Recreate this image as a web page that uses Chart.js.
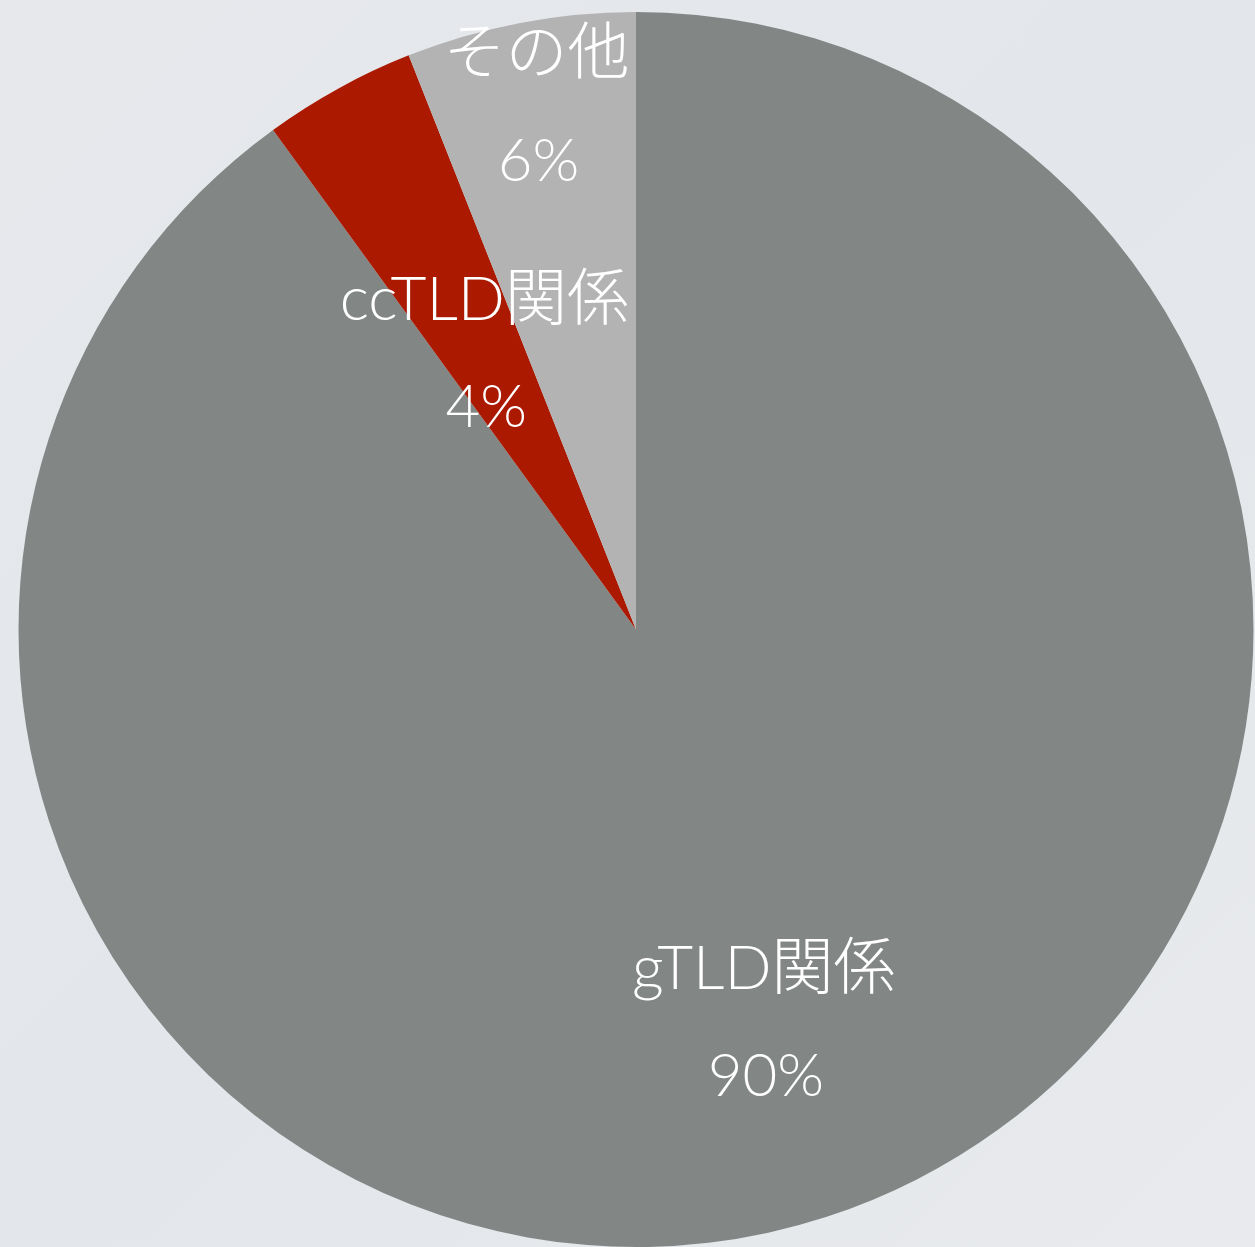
<!DOCTYPE html>
<html>
<head>
<meta charset="utf-8">
<script src="https://cdn.jsdelivr.net/npm/chart.js@4.4.1/dist/chart.umd.min.js"></script>
<style>
    html, body { margin: 0; padding: 0; overflow: hidden; }
    body {
        width: 1255px;
        height: 1247px;
        background: linear-gradient(135deg, #e6e8ec 0%, #e3e6ea 50%, #e8eaed 100%);
    }
    #wrap { position: relative; width: 1255px; height: 1247px; }
</style>
</head>
<body>
<div id="wrap"><canvas id="share"></canvas></div>
<script>
const categories = ["gTLD関係", "ccTLD関係", "その他"];
const shares = [90, 4, 6];
const sliceColors = ["#828785", "#aa1900", "#b3b3b3"];

// how far out (fraction of radius) each label sits along its slice
const labelRadius = [0.67, 0.51, 0.86];

const sliceLabels = {
    id: "sliceLabels",
    afterDatasetsDraw(chart, args, opts) {
        const { ctx } = chart;
        const meta = chart.getDatasetMeta(0);
        const values = chart.data.datasets[0].data;
        const total = values.reduce((a, b) => a + b, 0);
        ctx.save();
        ctx.fillStyle = "#ffffff";
        ctx.textAlign = "center";
        ctx.textBaseline = "middle";
        meta.data.forEach((arc, i) => {
            const p = arc.getProps(["x", "y", "startAngle", "endAngle", "outerRadius"], true);
            const mid = (p.startAngle + p.endAngle) / 2;
            const r = p.outerRadius * opts.radius[i];
            const cx = p.x + Math.cos(mid) * r;
            const cy = p.y + Math.sin(mid) * r;
            ctx.font = "300 62px Lato, 'Noto Sans CJK JP', sans-serif";
            ctx.fillText(chart.data.labels[i], cx, cy - 54);
            ctx.font = "300 60px Lato, 'Noto Sans CJK JP', sans-serif";
            ctx.fillText(Math.round(values[i] / total * 100) + "%", cx + 2, cy + 54);
        });
        ctx.restore();
    }
};

const canvas = document.getElementById("share");
canvas.width = 1255;
canvas.height = 1247;

new Chart(canvas.getContext("2d"), {
    type: "pie",
    data: {
        labels: categories,
        datasets: [{
            data: shares,
            backgroundColor: sliceColors,
            borderWidth: 0,
        }]
    },
    options: {
        responsive: false,
        animation: false,
        layout: {
            padding: { left: 18, right: 1, top: 12, bottom: 0 }
        },
        plugins: {
            legend: { display: false },
            tooltip: { enabled: false },
            sliceLabels: { radius: labelRadius }
        }
    },
    plugins: [sliceLabels]
});
</script>
</body>
</html>
